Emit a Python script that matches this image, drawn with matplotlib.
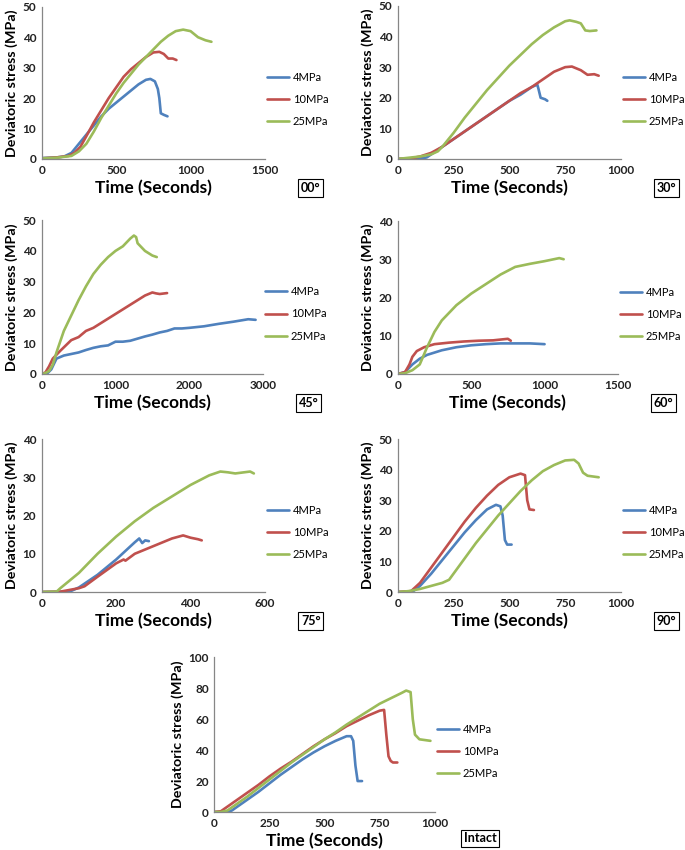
import matplotlib
matplotlib.use("Agg")
import matplotlib.pyplot as plt

plt.rcParams["font.family"] = ["Lato", "DejaVu Sans"]

BLUE, RED, GREEN = "#4F81BD", "#C0504D", "#9BBB59"
labels = ["4MPa", "10MPa", "25MPa"]

# ---- 00 deg ----
t00_4 = [0, 100, 150, 200, 250, 300, 350, 400, 450, 500, 550, 600, 650, 700, 730, 760, 780, 790, 800, 820, 845]
s00_4 = [0.3, 0.5, 0.8, 2, 5, 8, 11, 14, 16.5, 18.5, 20.5, 22.5, 24.5, 26, 26.3, 25.5, 23, 20, 15, 14.5, 14]
t00_10 = [0, 100, 180, 220, 260, 300, 350, 400, 450, 500, 550, 600, 650, 700, 750, 790, 820, 850, 880, 905]
s00_10 = [0.2, 0.5, 1, 2, 4, 7.5, 12, 16, 20, 23.5, 27, 29.5, 31.5, 33.5, 35, 35.2, 34.5, 33, 33, 32.5]
t00_25 = [0, 100, 200, 250, 300, 350, 400, 450, 500, 550, 600, 650, 700, 750, 800, 850, 900, 950, 1000, 1050, 1100, 1140]
s00_25 = [0.2, 0.4, 1, 2.5, 5, 9, 13.5, 17.5, 21.5, 25, 28, 31, 33.5, 36, 38.5, 40.5, 42, 42.5, 42, 40, 39, 38.5]

# ---- 30 deg ----
t30_4 = [0, 100, 130, 160, 200, 250, 300, 350, 400, 450, 500, 550, 600, 625, 630, 640, 660, 670]
s30_4 = [0, 0.1, 0.5, 2, 4, 6.5, 9, 11.5, 14, 16.5, 19, 21, 23.5, 24.3, 23, 20, 19.5, 19]
t30_10 = [0, 60, 100, 150, 200, 250, 300, 350, 400, 450, 500, 550, 600, 650, 700, 750, 780, 820, 850, 880, 900]
s30_10 = [0, 0.2, 0.8, 2, 4, 6.5, 9, 11.5, 14, 16.5, 19, 21.5, 23.5, 26, 28.5, 30, 30.2, 29, 27.5, 27.7, 27.2]
t30_25 = [0, 100, 150, 180, 200, 250, 300, 350, 400, 450, 500, 550, 600, 650, 700, 750, 770, 800, 820, 840, 860, 890]
s30_25 = [0, 0.8, 1.5, 2.5, 4, 8.5, 13.5, 18, 22.5, 26.5, 30.5, 34, 37.5, 40.5, 43, 45, 45.3, 44.8, 44.3, 42, 41.8, 42]

# ---- 45 deg ----
t45_4 = [0, 80, 130, 200, 300, 400, 500, 600, 700, 800, 900, 1000, 1100, 1200, 1300, 1400, 1500, 1600, 1700, 1800,
         1900, 2000, 2200, 2400, 2600, 2800, 2900]
s45_4 = [0, 0.3, 1.5, 5, 6, 6.5, 7, 7.8, 8.5, 9, 9.3, 10.5, 10.5, 10.8, 11.5, 12.2, 12.8, 13.5, 14, 14.8,
         14.8, 15, 15.5, 16.3, 17, 17.8, 17.6]
t45_10 = [0, 50, 100, 150, 250, 400, 500, 600, 700, 800, 900, 1000, 1100, 1200, 1300, 1400, 1500, 1550, 1600, 1700]
s45_10 = [0, 0.5, 2.5, 5, 7.5, 11, 12, 14, 15, 16.5, 18, 19.5, 21, 22.5, 24, 25.5, 26.5, 26.2, 26, 26.3]
t45_25 = [0, 50, 100, 150, 200, 300, 400, 500, 600, 700, 800, 900, 1000, 1100, 1200, 1250, 1280, 1300, 1400, 1500, 1560]
s45_25 = [0, 0.3, 1, 3, 7, 14, 19, 24, 28.5, 32.5, 35.5, 38, 40, 41.5, 44, 45, 44.5, 42.5, 40, 38.5, 38]

# ---- 60 deg ----
t60_4 = [0, 50, 100, 150, 200, 300, 400, 500, 600, 700, 800, 900, 1000]
s60_4 = [0, 0.5, 2.5, 4, 5, 6.2, 7, 7.5, 7.8, 8, 8, 8, 7.8]
t60_10 = [0, 50, 80, 100, 130, 180, 250, 350, 450, 550, 650, 750, 770]
s60_10 = [0, 0.5, 2.5, 4.5, 6, 7, 7.8, 8.2, 8.5, 8.7, 8.8, 9.2, 8.7]
t60_25 = [0, 50, 100, 150, 200, 250, 300, 400, 500, 600, 700, 800, 900, 1000, 1100, 1130]
s60_25 = [0, 0.2, 1, 2.5, 7, 11, 14, 18, 21, 23.5, 26, 28, 28.8, 29.5, 30.3, 30]

# ---- 75 deg ----
t75_4 = [0, 75, 100, 150, 200, 250, 262, 270, 278, 288]
s75_4 = [0, 0.1, 1.2, 4.5, 8.5, 13, 14, 12.8, 13.5, 13.3]
t75_10 = [0, 50, 100, 115, 150, 200, 220, 225, 250, 300, 350, 380, 400, 420, 430]
s75_10 = [0, 0.1, 1, 1.5, 4, 7.5, 8.5, 8.2, 10, 12, 14, 14.8, 14.2, 13.8, 13.5]
t75_25 = [0, 40, 50, 100, 150, 200, 250, 300, 350, 400, 450, 480, 500, 520, 560, 570]
s75_25 = [0, 0.1, 1, 5, 10, 14.5, 18.5, 22, 25, 28, 30.5, 31.5, 31.3, 31, 31.5, 31]

# ---- 90 deg ----
t90_4 = [0, 50, 70, 100, 150, 200, 250, 300, 350, 400, 440, 460, 470, 480, 490, 510]
s90_4 = [0, 0, 0.3, 2, 6, 10.5, 15, 19.5, 23.5, 27, 28.5, 28, 25, 17, 15.5, 15.5]
t90_10 = [0, 60, 100, 150, 200, 250, 300, 350, 400, 450, 500, 550, 570, 580, 590, 610]
s90_10 = [0, 0.3, 3, 8, 13, 18, 23, 27.5, 31.5, 35, 37.5, 38.7, 38.2, 30, 27, 26.8]
t90_25 = [0, 50, 100, 150, 200, 230, 250, 300, 350, 400, 450, 500, 550, 600, 650, 700, 750, 790, 810, 830, 850, 900]
s90_25 = [0, 0.3, 1, 2, 3, 4, 6, 11, 16, 20.5, 25, 29, 33, 36.5, 39.5, 41.5, 43, 43.2, 42, 39, 38, 37.5]

# ---- Intact ----
tin_4 = [0, 60, 80, 100, 150, 200, 250, 300, 350, 400, 450, 500, 550, 600, 620, 630, 640, 650, 670]
sin_4 = [0, 0, 1, 3, 8, 13, 18.5, 24, 29, 34, 38.5, 42.5, 46, 49, 49, 46, 30, 20, 20]
tin_10 = [0, 30, 50, 100, 150, 200, 250, 300, 350, 400, 450, 500, 550, 600, 650, 700, 750, 770, 780, 790, 800,
          810, 830]
sin_10 = [0, 0.5, 2.5, 7.5, 12.5, 17.5, 23, 28, 32.5, 37.5, 42.5, 47, 51, 55.5, 59, 62.5, 65.5, 66, 50, 36, 33,
          32, 32]
tin_25 = [0, 30, 60, 100, 150, 200, 250, 300, 350, 400, 450, 500, 550, 600, 650, 700, 750, 800, 850, 870, 890,
          900, 910, 930, 980]
sin_25 = [0, 0, 1, 5, 10, 15.5, 21, 26.5, 32, 37, 42, 47, 51.5, 56.5, 61, 65.5, 70, 73.5, 77, 78.5, 77.5,
          60, 50, 47, 46]

panels = [
    ("00°", [0.0609, 0.813, 0.326, 0.179], 1500, 500, 50, 10, -0.19,
     [(t00_4, s00_4), (t00_10, s00_10), (t00_25, s00_25)]),
    ("30°", [0.5806, 0.813, 0.326, 0.180], 1000, 250, 50, 10, -0.19,
     [(t30_4, s30_4), (t30_10, s30_10), (t30_25, s30_25)]),
    ("45°", [0.0609, 0.560, 0.323, 0.181], 3000, 1000, 50, 10, -0.19,
     [(t45_4, s45_4), (t45_10, s45_10), (t45_25, s45_25)]),
    ("60°", [0.5806, 0.560, 0.3216, 0.180], 1500, 500, 40, 10, -0.19,
     [(t60_4, s60_4), (t60_10, s60_10), (t60_25, s60_25)]),
    ("75°", [0.0609, 0.3035, 0.326, 0.180], 600, 200, 40, 10, -0.19,
     [(t75_4, s75_4), (t75_10, s75_10), (t75_25, s75_25)]),
    ("90°", [0.5806, 0.3035, 0.326, 0.180], 1000, 250, 50, 10, -0.19,
     [(t90_4, s90_4), (t90_10, s90_10), (t90_25, s90_25)]),
    ("Intact", [0.3128, 0.0447, 0.322, 0.182], 1000, 250, 100, 20, -0.17,
     [(tin_4, sin_4), (tin_10, sin_10), (tin_25, sin_25)]),
]

fig = plt.figure(figsize=(6.85, 8.5), dpi=100)

for tag, rect, xmax, xstep, ymax, ystep, tagy, series in panels:
    ax = fig.add_axes(rect)
    for (t, s), c, lab in zip(series, [BLUE, RED, GREEN], labels):
        ax.plot(t, s, color=c, lw=1.9, label=lab, solid_capstyle="round")
    ax.set_xlim(0, xmax)
    ax.set_ylim(0, ymax)
    ax.set_xticks(range(0, xmax + 1, xstep))
    ax.set_yticks(range(0, ymax + 1, ystep))
    for sp in ("top", "right"):
        ax.spines[sp].set_visible(False)
    for sp in ("left", "bottom"):
        ax.spines[sp].set_color("#868686")
        ax.spines[sp].set_linewidth(0.9)
    ax.tick_params(length=0, labelsize=8.5, pad=4, colors="#222222")
    for lb in ax.get_xticklabels() + ax.get_yticklabels():
        lb.set_fontweight("bold")
    ax.set_xlabel("Time (Seconds)", fontsize=12.5, fontweight="bold", labelpad=3)
    ax.set_ylabel("Deviatoric stress (MPa)", fontsize=10.3, fontweight="bold", labelpad=3)
    ax.legend(loc="center left", bbox_to_anchor=(1.0, 0.39), frameon=False, fontsize=8,
              handlelength=2.0, labelspacing=1.0, handletextpad=0.3, borderaxespad=0.0,
              borderpad=0.2)
    ax.text(1.205, tagy, tag, transform=ax.transAxes, ha="center", va="center",
            fontsize=9, fontweight="bold",
            bbox=dict(boxstyle="square,pad=0.22", fc="white", ec="black", lw=0.8))

fig.savefig("out.png", dpi=100)
